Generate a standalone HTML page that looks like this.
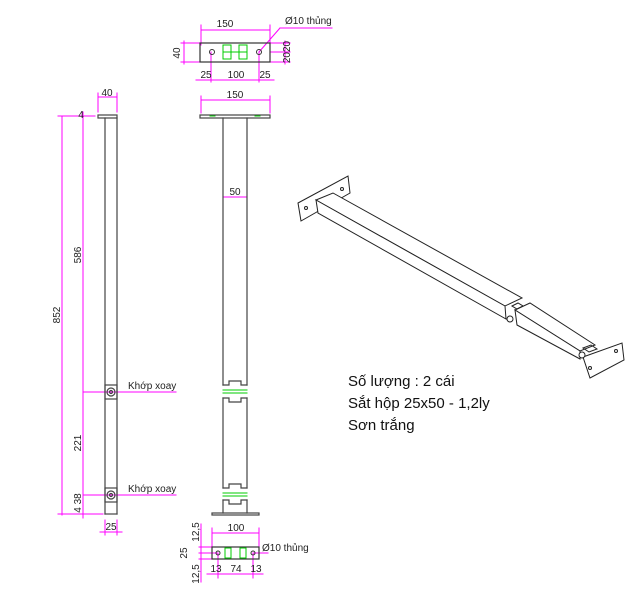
<!DOCTYPE html>
<html><head><meta charset="utf-8"><style>
html,body{margin:0;padding:0;background:#fff;}
svg{display:block;font-family:"Liberation Sans",sans-serif;}
</style></head><body>
<svg width="628" height="600" viewBox="0 0 628 600" xmlns="http://www.w3.org/2000/svg">
<g fill="none" stroke-linecap="square">
<!-- TOP VIEW plate -->
<g stroke="#f0f" stroke-width="1">
<line x1="201" y1="30" x2="270" y2="30"/><line x1="201" y1="25" x2="201" y2="45"/><line x1="270" y1="25" x2="270" y2="45"/>
<line x1="181" y1="43" x2="200" y2="43"/><line x1="181" y1="62" x2="200" y2="62"/><line x1="184" y1="41" x2="184" y2="64"/>
<line x1="270" y1="43" x2="290" y2="43"/><line x1="270" y1="62" x2="290" y2="62"/><line x1="285" y1="41" x2="285" y2="64"/><line x1="270" y1="52" x2="290" y2="52"/>
<line x1="196" y1="80" x2="274" y2="80"/><line x1="211" y1="52" x2="211" y2="82"/><line x1="259" y1="52" x2="259" y2="82"/>
<line x1="259" y1="52" x2="280" y2="28"/><line x1="280" y1="28" x2="332" y2="28"/>
</g>
<rect x="200" y="43" width="70" height="19" stroke="#333" stroke-width="1.2"/>
<circle cx="212" cy="52" r="2.5" stroke="#333"/><circle cx="259" cy="52" r="2.5" stroke="#333"/>
<g stroke="#0c0" stroke-width="1"><rect x="223" y="45" width="8" height="14"/><rect x="239" y="45" width="8" height="14"/><line x1="223" y1="52" x2="247" y2="52"/></g>

<!-- LEFT SIDE VIEW -->
<g stroke="#f0f" stroke-width="1">
<line x1="62" y1="116" x2="62" y2="515"/><line x1="58" y1="116" x2="95" y2="116"/>
<line x1="83" y1="112" x2="83" y2="518"/>
<line x1="83" y1="392" x2="125" y2="392"/><line x1="83" y1="495" x2="125" y2="495"/>
<line x1="58" y1="514" x2="103" y2="514"/>
<line x1="98" y1="97" x2="117" y2="97"/><line x1="98" y1="93" x2="98" y2="112"/><line x1="117" y1="93" x2="117" y2="112"/>
<line x1="100" y1="532" x2="122" y2="532"/><line x1="105" y1="520" x2="105" y2="535"/><line x1="117" y1="520" x2="117" y2="535"/>
<line x1="125" y1="392" x2="176" y2="392"/><line x1="125" y1="495" x2="176" y2="495"/>
</g>
<g stroke="#444" stroke-width="1.2">
<rect x="98" y="115" width="19" height="3"/>
<line x1="105" y1="118" x2="105" y2="514"/><line x1="117" y1="118" x2="117" y2="514"/>
<rect x="105" y="385" width="12" height="14"/><circle cx="111" cy="392" r="4"/><circle cx="111" cy="392" r="1.5"/>
<rect x="105" y="488" width="12" height="14"/><circle cx="111" cy="495" r="4"/><circle cx="111" cy="495" r="1.5"/>
<line x1="105" y1="514" x2="117" y2="514"/>
</g>
<!-- MIDDLE FRONT VIEW -->
<g stroke="#f0f" stroke-width="1">
<line x1="201" y1="100" x2="270" y2="100"/><line x1="201" y1="96" x2="201" y2="113"/><line x1="270" y1="96" x2="270" y2="113"/>
<line x1="223" y1="197" x2="247" y2="197"/><line x1="223" y1="186" x2="223" y2="200"/><line x1="247" y1="186" x2="247" y2="200"/>
</g>
<g stroke="#444" stroke-width="1.2">
<rect x="200" y="115" width="70" height="3"/>
<line x1="223" y1="118" x2="223" y2="385"/><line x1="247" y1="118" x2="247" y2="385"/>
<path d="M223 385 h6 v-4 h12 v4 h6 M223 398 h6 v4 h12 v-4 h6"/>
<line x1="223" y1="398" x2="223" y2="488"/><line x1="247" y1="398" x2="247" y2="488"/>
<path d="M223 488 h6 v-4 h12 v4 h6 M223 500 h6 v4 h12 v-4 h6"/>
<line x1="223" y1="500" x2="223" y2="513"/><line x1="247" y1="500" x2="247" y2="513"/>
<rect x="212" y="513" width="47" height="2"/>
</g>
<g stroke="#0c0" stroke-width="1">
<line x1="223" y1="390" x2="247" y2="390"/><line x1="223" y1="393" x2="247" y2="393"/>
<line x1="223" y1="493" x2="247" y2="493"/><line x1="223" y1="496" x2="247" y2="496"/>
<line x1="210" y1="116" x2="215" y2="116"/><line x1="255" y1="116" x2="260" y2="116"/>
</g>
<!-- BOTTOM plate -->
<g stroke="#f0f" stroke-width="1">
<line x1="212" y1="533" x2="259" y2="533"/><line x1="212" y1="528" x2="212" y2="547"/><line x1="259" y1="528" x2="259" y2="547"/>
<line x1="199" y1="547" x2="212" y2="547"/><line x1="199" y1="559" x2="212" y2="559"/><line x1="201" y1="524" x2="201" y2="582"/><line x1="199" y1="553" x2="218" y2="553"/>
<line x1="207" y1="574" x2="263" y2="574"/><line x1="218" y1="553" x2="218" y2="578"/><line x1="253" y1="553" x2="253" y2="578"/>
<line x1="253" y1="553" x2="268" y2="553"/>
</g>
<rect x="212" y="547" width="47" height="12" stroke="#333" stroke-width="1.2"/>
<circle cx="218" cy="553" r="2" stroke="#333"/><circle cx="253" cy="553" r="2" stroke="#333"/>
<g stroke="#0c0" stroke-width="1"><rect x="225" y="548" width="6" height="10"/><rect x="240" y="548" width="6" height="10"/></g>

<!-- ISO VIEW -->
<g stroke="#222" stroke-width="1">
<polygon points="298,203 348,176 350,193 301,221" fill="#fff"/>
<circle cx="306" cy="208" r="1.5"/><circle cx="342" cy="189" r="1.5"/>
<polygon points="316,200 333,193 522,298 505,306" fill="#fff"/>
<polygon points="316,200 505,306 506,319 318,213" fill="#fff"/>
<polygon points="515,310 530,303 595,345 580,351" fill="#fff"/>
<polygon points="515,310 580,351 580,359 517,325" fill="#fff"/>
<circle cx="510" cy="319" r="3" fill="#fff"/>
<path d="M512 306 l6 -3 l5 3 l-6 3 z"/>
<polygon points="583,357 622,343 624,360 590,378" fill="#fff"/>
<circle cx="590" cy="368" r="1.5"/><circle cx="616" cy="351" r="1.5"/>
<path d="M583 348 l8 -3 l6 4 l-8 3 z"/>
<circle cx="582" cy="355" r="3" fill="#fff"/>
</g>
</g>
<!-- TEXT -->
<g fill="#222" font-size="10">
<text x="225" y="27" text-anchor="middle">150</text>
<text x="285" y="24">Ø10 thủng</text>
<text x="180" y="53" text-anchor="middle" transform="rotate(-90 180 53)">40</text>
<text x="290" y="52" text-anchor="middle" transform="rotate(-90 290 52)">2020</text>
<text x="206" y="78" text-anchor="middle">25</text>
<text x="236" y="78" text-anchor="middle">100</text>
<text x="265" y="78" text-anchor="middle">25</text>
<text x="107" y="96" text-anchor="middle">40</text>
<text x="235" y="98" text-anchor="middle">150</text>
<text x="235" y="195" text-anchor="middle">50</text>
<text x="60" y="315" text-anchor="middle" transform="rotate(-90 60 315)">852</text>
<text x="81" y="255" text-anchor="middle" transform="rotate(-90 81 255)">586</text>
<text x="81" y="443" text-anchor="middle" transform="rotate(-90 81 443)">221</text>
<text x="81" y="503" text-anchor="middle" transform="rotate(-90 81 503)">4 38</text>
<text x="81" y="118" text-anchor="middle">4</text>
<text x="128" y="389">Khớp xoay</text>
<text x="128" y="492">Khớp xoay</text>
<text x="111" y="530" text-anchor="middle">25</text>
<text x="236" y="531" text-anchor="middle">100</text>
<text x="199" y="532" text-anchor="middle" transform="rotate(-90 199 532)">12,5</text>
<text x="187" y="553" text-anchor="middle" transform="rotate(-90 187 553)">25</text>
<text x="199" y="574" text-anchor="middle" transform="rotate(-90 199 574)">12,5</text>
<text x="216" y="572" text-anchor="middle">13</text>
<text x="236" y="572" text-anchor="middle">74</text>
<text x="256" y="572" text-anchor="middle">13</text>
<text x="262" y="551">Ø10 thủng</text>
</g>
<g fill="#111" font-size="15">
<text x="348" y="386">Số lượng : 2 cái</text>
<text x="348" y="408">Sắt hộp 25x50 - 1,2ly</text>
<text x="348" y="430">Sơn trắng</text>
</g>
</svg>
</body></html>
